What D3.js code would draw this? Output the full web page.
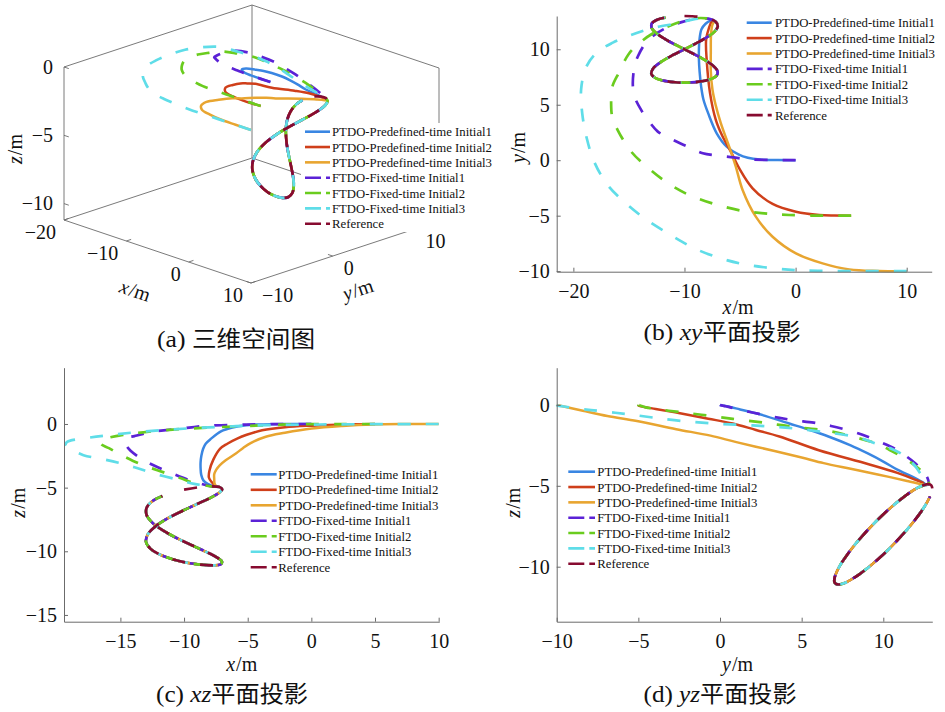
<!DOCTYPE html>
<html>
<head>
<meta charset="utf-8">
<script src="https://cdn.jsdelivr.net/npm/d3@7"></script>
<style>
body { margin: 0; background: #fff; }
</style>
</head>
<body>
<svg id="fig" width="945" height="712"></svg>
<script>
// ---- series ----
const seriesNames = [
  "PTDO-Predefined-time Initial1",
  "PTDO-Predefined-time Initial2",
  "PTDO-Predefined-time Initial3",
  "FTDO-Fixed-time Initial1",
  "FTDO-Fixed-time Initial2",
  "FTDO-Fixed-time Initial3",
  "Reference"
];
const seriesColors = ["#3a86e2", "#cf3f1a", "#e8a530", "#5b22d6", "#6acc1e", "#5fdde8", "#870b30"];
const seriesDashed = [false, false, false, true, true, true, true];

const reference = [
  [-10.00, 13.00, -5.16], [-8.83, 12.94, -4.97], [-7.85, 12.76, -4.90], [-7.20, 12.48, -4.96],
  [-7.00, 12.09, -5.13], [-7.27, 11.62, -5.42], [-7.97, 11.09, -5.82], [-9.00, 10.51, -6.30],
  [-10.18, 9.91, -6.85], [-11.33, 9.32, -7.44], [-12.27, 8.75, -8.06], [-12.85, 8.23, -8.67],
  [-12.99, 7.79, -9.26], [-12.65, 7.43, -9.79], [-11.89, 7.17, -10.26], [-10.84, 7.03, -10.64],
  [-9.65, 7.00, -10.92], [-8.52, 7.10, -11.06], [-7.62, 7.31, -11.10], [-7.10, 7.63, -11.01],
  [-7.03, 8.04, -10.79], [-7.44, 8.53, -10.47], [-8.25, 9.08, -10.05], [-9.33, 9.66, -9.55],
  [-10.52, 10.26, -8.99], [-11.63, 10.85, -8.38], [-12.48, 11.41, -7.76], [-12.94, 11.90, -7.16],
  [-12.94, 12.33, -6.58], [-12.47, 12.66, -6.05], [-11.71, 12.86, -5.66]
];

// approach phases, after which each run tracks the reference
const ptdo1Approach = [
  [0, 0, 0], [-1.6, 0.01, -0.005], [-3.2, 0.06, -0.015], [-4.3, 0.22, -0.05], [-5.1, 0.5, -0.1],
  [-6.2, 1.23, -0.28], [-7.1, 2.43, -0.58], [-7.87, 4.24, -1.15], [-8.3, 5.5, -1.55], [-8.5, 6.64, -1.95],
  [-8.64, 8.0, -2.5], [-8.7, 9.05, -3.0], [-8.7, 10.0, -3.5], [-8.65, 10.86, -4.0], [-8.47, 11.8, -4.45],
  [-8.1, 12.3, -4.72], [-7.7, 12.55, -4.88]
];
const ptdo2Approach = [
  [5, -5, 0], [3.5, -4.99, -0.03], [2.13, -4.94, -0.06], [0.03, -4.64, -0.13], [-2.07, -3.94, -0.25],
  [-3.87, -2.53, -0.5], [-5.08, -0.72, -0.85], [-5.83, 0.78, -1.15], [-6.6, 2.2, -1.55], [-7.18, 3.64, -1.95],
  [-7.7, 6.05, -2.8], [-8.0, 9.05, -3.65], [-8.05, 10.86, -4.2], [-7.8, 11.9, -4.6], [-7.55, 12.45, -4.85]
];
const ptdo3Approach = [
  [10, -10, 0], [7.5, -9.98, -0.005], [4.83, -9.84, -0.04], [2.43, -9.3, -0.16], [0.03, -8.4, -0.36],
  [-2.07, -6.9, -0.69], [-3.58, -5.09, -1.0], [-4.77, -2.68, -1.5], [-5.38, -0.58, -1.9], [-5.9, 1.0, -2.3],
  [-6.73, 3.34, -2.85], [-7.2, 5.0, -3.25], [-7.48, 6.35, -3.6], [-7.63, 8.0, -3.95], [-7.63, 9.66, -4.3],
  [-7.6, 11.46, -4.7], [-7.45, 12.3, -4.9]
];
const ftdo1Approach = [
  [0, 0, 0], [-2.2, 0.02, -0.01], [-4.4, 0.09, -0.03], [-5.6, 0.25, -0.06], [-7.1, 0.42, -0.1],
  [-8.35, 0.63, -0.15], [-9.4, 1.08, -0.26], [-10.4, 1.53, -0.37], [-11.6, 2.13, -0.5], [-12.4, 2.58, -0.6],
  [-13.3, 3.64, -0.8], [-13.9, 4.54, -0.95], [-14.5, 5.74, -1.1], [-14.65, 6.8, -1.3], [-14.5, 8.45, -1.75],
  [-14.2, 9.35, -2.1], [-13.4, 10.7, -2.7], [-12.7, 11.3, -3.1], [-11.6, 11.95, -3.6], [-10.4, 12.4, -4.1],
  [-9.3, 12.7, -4.5]
];
const ftdo2Approach = [
  [5, -5, 0], [2.5, -5, -0.005], [-0.58, -4.94, -0.02], [-2.83, -4.79, -0.07], [-4.87, -4.55, -0.15],
  [-7.33, -3.94, -0.25], [-9.6, -3.13, -0.36], [-11.6, -2.0, -0.5], [-13.4, -0.58, -0.68], [-14.8, 0.78, -0.86],
  [-16.0, 2.7, -1.1], [-16.5, 3.9, -1.27], [-16.6, 5.1, -1.42], [-16.5, 6.6, -1.6], [-15.9, 7.9, -1.9],
  [-15.0, 9.6, -2.4], [-14.0, 10.6, -2.9], [-12.9, 11.4, -3.35], [-11.6, 12.0, -3.8], [-10.3, 12.5, -4.25],
  [-9.2, 12.78, -4.65]
];
const ftdo3Approach = [
  [10, -10, 0], [6, -9.99, -0.01], [2, -9.97, -0.03], [-0.1, -9.9, -0.05], [-2.4, -9.7, -0.08],
  [-4.8, -9.35, -0.13], [-6.9, -8.8, -0.22], [-9.2, -7.9, -0.32], [-11.3, -6.7, -0.45], [-13.3, -5.45, -0.6],
  [-15.2, -3.95, -0.8], [-16.9, -2.25, -1.0], [-18.1, -0.2, -1.16], [-18.8, 2.0, -1.27], [-19.2, 4.2, -1.42],
  [-19.3, 6.4, -1.68], [-18.85, 8.4, -2.0], [-17.9, 9.7, -2.45], [-16.45, 10.6, -2.75], [-15.15, 11.16, -3.05],
  [-13.9, 11.6, -3.4], [-12.5, 12.0, -3.85], [-10.6, 12.35, -4.35], [-9.2, 12.7, -4.7]
];

const series = [
  ptdo1Approach.concat(reference.slice(3)),
  ptdo2Approach.concat(reference.slice(3)),
  ptdo3Approach.concat(reference.slice(3)),
  ftdo1Approach.concat(reference.slice(2)),
  ftdo2Approach.concat(reference.slice(2)),
  ftdo3Approach.concat(reference.slice(2)),
  reference
];

// ---- ticks ----
const xyTicksX = [-20, -10, 0, 10];
const xyTicksY = [-10, -5, 0, 5, 10];
const xzTicksX = [-15, -10, -5, 0, 5, 10];
const xzTicksZ = [-15, -10, -5, 0];
const yzTicksY = [-10, -5, 0, 5, 10];
const yzTicksZ = [-10, -5, 0];
const box3TicksX = [-20, -10, 0, 10];
const box3TicksY = [-10, 0, 10];
const box3TicksZ = [-10, -5, 0];

const serif = "Liberation Serif, Times New Roman, DejaVu Serif, serif";
const cjk = "Noto Sans CJK SC, sans-serif";
const svg = d3.select("#fig").attr("font-family", serif);
const axisColor = "#6b6b6b";
const curve = d3.curveCatmullRom.alpha(0.5);
const fmt = d3.format("");
const tickFont = 20;

// width of a numeric label in Times-like metrics
const numWidth = s => Array.from(s).reduce((w, ch) => w + (ch === "\u2212" ? 0.564 : 0.5), 0) * tickFont;
const fitText = (sel, w) => sel.attr("textLength", w).attr("lengthAdjust", "spacingAndGlyphs");

function txt(g) {
  return g.append("text").style("font-family", serif).attr("fill", "#111");
}

function styleLine(sel, i) {
  sel.attr("fill", "none")
    .attr("stroke", seriesColors[i])
    .attr("stroke-width", seriesDashed[i] ? 2.7 : 2.5)
    .attr("stroke-dasharray", seriesDashed[i] ? "13,15" : null)
    .attr("stroke-linejoin", "round");
}

function addLegend(g, lx0, lx1, tx, y0, dy) {
  const widths = [160, 160, 160, 133, 133, 133, 52];
  seriesNames.forEach((name, i) => {
    const y = y0 + i * dy;
    g.append("line").attr("x1", lx0).attr("x2", lx1).attr("y1", y).attr("y2", y)
      .attr("stroke", seriesColors[i]).attr("stroke-width", 2.6)
      .attr("stroke-dasharray", seriesDashed[i] ? "16,5" : null);
    txt(g).attr("x", tx).attr("y", y + 4.5).attr("font-size", 13).text(name).call(fitText, widths[i]);
  });
}

// "x/m" style label: italic variable followed by the unit
function axisLabel(g, x, y, italicPart, rotate) {
  const t = txt(g).attr("font-size", 20).attr("text-anchor", "middle")
    .attr("transform", `translate(${x},${y}) rotate(${rotate || 0})`);
  t.append("tspan").attr("font-style", "italic").text(italicPart);
  t.append("tspan").attr("dx", 1).text("/m");
}

function caption(x, y, tag, italicPart, cn, w) {
  const t = txt(svg).attr("x", x).attr("y", y).attr("font-size", 24).attr("text-anchor", "middle");
  t.append("tspan").text(tag + " ");
  if (italicPart) t.append("tspan").attr("font-style", "italic").text(italicPart);
  t.append("tspan").style("font-family", cjk).attr("font-size", 23).text(cn);
  fitText(t, w);
}

function panel2D(o) {
  const g = svg.append("g");
  const x = d3.scaleLinear(o.xDom, o.xRange);
  const y = d3.scaleLinear(o.yDom, o.yRange);

  const line = d3.line().x(p => x(p[o.ix])).y(p => y(p[o.iy])).curve(curve);
  series.forEach((pts, i) => g.append("path").attr("d", line(pts)).call(styleLine, i));

  const gx = g.append("g").attr("transform", `translate(0,${o.yRange[0]})`)
    .call(d3.axisBottom(x).tickValues(o.xTicks).tickSizeInner(-4).tickSizeOuter(0).tickPadding(12));
  const gy = g.append("g").attr("transform", `translate(${o.xRange[0]},0)`)
    .call(d3.axisLeft(y).tickValues(o.yTicks).tickSizeInner(-4).tickSizeOuter(0).tickPadding(7));
  [gx, gy].forEach(a => {
    a.attr("font-family", serif).attr("font-size", tickFont);
    a.select(".domain").attr("stroke", axisColor);
    a.selectAll(".tick line").attr("stroke", axisColor);
    a.selectAll(".tick text").style("font-family", serif).attr("fill", "#111")
      .each(function () { fitText(d3.select(this), numWidth(this.textContent)); });
  });

  addLegend(g, o.leg[0], o.leg[1], o.leg[2], o.leg[3], o.leg[4]);
  axisLabel(g, o.xLab[0], o.xLab[1], o.xName);
  axisLabel(g, o.yLab[0], o.yLab[1], o.yName, -90);
}

// (b) xy
panel2D({
  xDom: [-21.5, 12.25], xRange: [556.7, 931.7],
  yDom: [-10.05, 13.0], yRange: [271.7, 16],
  ix: 0, iy: 1, xTicks: xyTicksX, yTicks: xyTicksY,
  leg: [746.7, 771.7, 775, 22.7, 15.4],
  xName: "x", yName: "y", xLab: [738, 314], yLab: [525, 147.5]
});
// (c) xz
panel2D({
  xDom: [-19.43, 10.05], xRange: [64, 439.3],
  yDom: [-15.53, 4.42], yRange: [621.7, 367.7],
  ix: 0, iy: 2, xTicks: xzTicksX, yTicks: xzTicksZ,
  leg: [250.7, 276.7, 278.3, 474.3, 15.5],
  xName: "x", yName: "z", xLab: [241.7, 671], yLab: [25, 502.7]
});
// (d) yz
panel2D({
  xDom: [-10.0, 13.0], xRange: [556.7, 932.3],
  yDom: [-13.4, 2.3], yRange: [621.7, 367.7],
  ix: 1, iy: 2, xTicks: yzTicksY, yTicks: yzTicksZ,
  leg: [568.3, 595, 597.3, 471.7, 15.33],
  xName: "y", yName: "z", xLab: [737.5, 671], yLab: [520, 502.7]
});

// (a) 3-D view
(function () {
  const g = svg.append("g");
  const nx = d3.scaleLinear([-20, 10], [0, 1]);
  const ny = d3.scaleLinear([-10, 13], [0, 1]);
  const nz = d3.scaleLinear([-11.2, 0], [0, 1]);
  const org = [64, 220], ex = [187, 63], ey = [188, -62], ez = [0, -153];
  const proj = p => {
    const a = nx(p[0]), b = ny(p[1]), c = nz(p[2]);
    return [org[0] + a * ex[0] + b * ey[0] + c * ez[0], org[1] + a * ex[1] + b * ey[1] + c * ez[1]];
  };
  const X0 = -20, X1 = 10, Y0 = -10, Y1 = 13, Z0 = -11.2, Z1 = 0;
  const edges = [
    [[X0, Y0, Z0], [X1, Y0, Z0]], [[X1, Y0, Z0], [X1, Y1, Z0]], [[X1, Y1, Z0], [X0, Y1, Z0]], [[X0, Y1, Z0], [X0, Y0, Z0]],
    [[X0, Y0, Z0], [X0, Y0, Z1]], [[X0, Y0, Z1], [X0, Y1, Z1]], [[X0, Y1, Z0], [X0, Y1, Z1]],
    [[X0, Y1, Z1], [X1, Y1, Z1]], [[X1, Y1, Z1], [X1, Y1, Z0]]
  ];
  edges.forEach(e => {
    const a = proj(e[0]), b = proj(e[1]);
    g.append("line").attr("x1", a[0]).attr("y1", a[1]).attr("x2", b[0]).attr("y2", b[1])
      .attr("stroke", axisColor).attr("stroke-width", 0.9);
  });

  const tick = (p, d) => {
    const a = proj(p);
    g.append("line").attr("x1", a[0]).attr("y1", a[1]).attr("x2", a[0] + d[0]).attr("y2", a[1] + d[1])
      .attr("stroke", axisColor).attr("stroke-width", 0.9);
    return a;
  };
  const tickText = (x, y, anchor, v) => {
    const s = fmt(v);
    txt(g).attr("x", x).attr("y", y).attr("text-anchor", anchor).attr("font-size", tickFont)
      .text(s).call(fitText, numWidth(s));
  };
  box3TicksX.forEach(t => {
    const a = tick([t, Y0, Z0], [4.8, -1.6]);
    tickText(a[0] - 8, a[1] + 19, "end", t);
  });
  box3TicksY.forEach(t => {
    const a = tick([X1, t, Z0], [-4.8, -1.6]);
    tickText(a[0] + 11, a[1] + 19, "start", t);
  });
  box3TicksZ.forEach(t => {
    const a = tick([X0, Y0, t], [4.8, 1.6]);
    tickText(a[0] - 11, a[1] + 6.5, "end", t);
  });

  const line = d3.line().x(p => proj(p)[0]).y(p => proj(p)[1]).curve(curve);
  series.forEach((pts, i) => g.append("path").attr("d", line(pts)).call(styleLine, i));

  g.append("rect").attr("x", 301).attr("y", 123).attr("width", 192).attr("height", 109).attr("fill", "#fff");
  addLegend(g, 305, 330, 332, 131.7, 15.33);

  axisLabel(g, 133, 297, "x", 18.6);
  axisLabel(g, 360, 296, "y", -18.3);
  axisLabel(g, 22, 149, "z", -90);
})();

caption(236, 347, "(a)", null, "三维空间图", 158);
caption(722, 340, "(b)", "xy", "平面投影", 157);
caption(232, 702, "(c)", "xz", "平面投影", 152);
caption(720, 702, "(d)", "yz", "平面投影", 153);
</script>
</body>
</html>
